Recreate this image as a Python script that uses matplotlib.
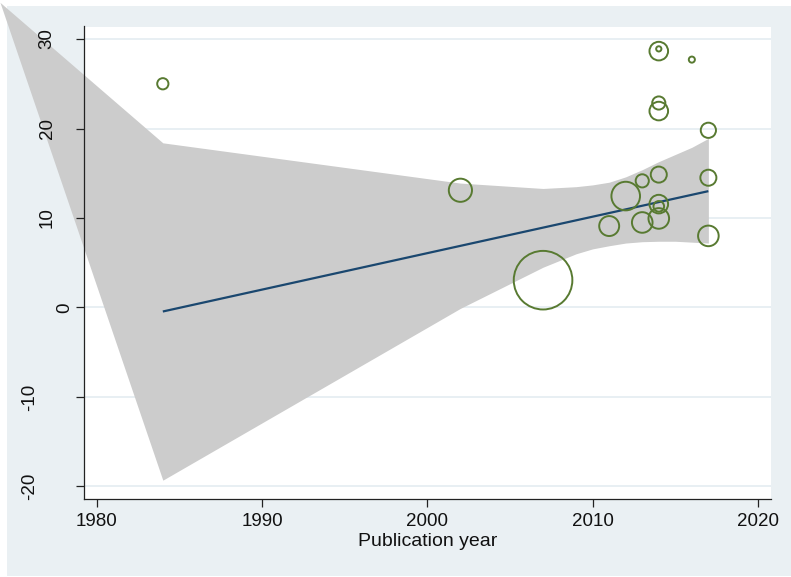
import matplotlib
matplotlib.use("Agg")
import matplotlib.pyplot as plt
import matplotlib.transforms as mtransforms
from matplotlib.patches import Rectangle
import numpy as np

# ---- data ----
study_year = [1984, 2002, 2007, 2011, 2012, 2013, 2013,
              2014, 2014, 2014, 2014, 2014, 2014, 2014, 2014,
              2016, 2017, 2017, 2017]
effect = [25.0, 13.1, 3.05, 9.1, 12.45, 14.15, 9.5,
          28.65, 28.9, 22.85, 21.95, 14.85, 11.55, 11.3, 9.95,
          27.7, 19.8, 14.5, 8.0]
weight = [40, 151, 900, 114, 225, 53, 121,
          100, 11, 53, 100, 76, 100, 36, 121,
          14, 69, 76, 121]

band_x = [1974.15, 1984, 2002, 2007, 2009, 2010, 2011, 2012, 2013, 2014, 2015, 2016, 2017]
band_upper = [34.1, 18.4, 13.9, 13.3, 13.5, 13.7, 14.0, 14.6, 15.4, 16.3, 17.1, 17.9, 18.9]
band_lower = [34.1, -19.3, -0.1, 4.5, 6.0, 6.55, 6.9, 7.2, 7.35, 7.4, 7.4, 7.3, 7.2]

fit_x = [1984, 2017]
fit_y = [-0.45, 13.0]

x_ticks = [1980, 1990, 2000, 2010, 2020]
y_ticks = [-20, -10, 0, 10, 20, 30]
x_title = "Publication year"

# ---- styling ----
W, H = 791, 577
BG = "#eaf0f3"
GREEN = "#587a31"
NAVY = "#1a476f"
BAND = "#cccccc"
plt.rcParams["font.family"] = ["Liberation Sans", "DejaVu Sans"]

fig = plt.figure(figsize=(W / 100, H / 100), dpi=100)
fig.patch.set_facecolor("white")
fig.patches.append(Rectangle((7 / W, 1 / H), 1 - 7 / W, (H - 7) / H,
                             transform=fig.transFigure, facecolor=BG,
                             edgecolor="none", zorder=-10))

left, right, top, bottom = 84, 770.7, 26.5, 498.7
ax = fig.add_axes([left / W, 1 - bottom / H, (right - left) / W, (bottom - top) / H])
ax.set_zorder(1)
ax.set_facecolor("white")
ax.set_xlim(1979.232, 2020.77)
ax.set_ylim(-21.37, 31.4)

for s in ["top", "right"]:
    ax.spines[s].set_visible(False)
for s in ["left", "bottom"]:
    ax.spines[s].set_color("#222222")
    ax.spines[s].set_linewidth(0.9)
    ax.spines[s].set_zorder(5)

# gridlines
ax.set_yticks(y_ticks)
ax.set_xticks(x_ticks)
for v in ax.get_yticks():
    ax.axhline(v, color="#e6eef2", lw=1.3, zorder=0.5)

# confidence band (drawn unclipped like the original)
ax.fill_between(band_x, band_lower, band_upper, color=BAND, lw=0,
                clip_on=False, zorder=1)

# fit line
ax.plot(fit_x, fit_y, color=NAVY, lw=1.6, zorder=3, solid_capstyle="butt")

# bubbles
r_pt = (np.sqrt(np.array(weight, dtype=float)) - 0.7) * 0.72
ax.scatter(study_year, effect, s=(2 * r_pt) ** 2, facecolors="none",
           edgecolors=GREEN, linewidths=1.4, zorder=4, clip_on=False)

# ticks
ax.tick_params(axis="both", direction="out", length=5.8, width=0.9,
               color="#222222", labelsize=13.5, labelcolor="#111111")
ax.tick_params(axis="x", pad=4.5)
ax.set_yticklabels([])
ax.set_xticklabels([str(v) for v in x_ticks])

offsets = {1: -7.5, 2: -20.5, 3: -33.0}
for v in y_ticks:
    lab = f"{v:g}"
    tr = mtransforms.offset_copy(ax.get_yaxis_transform(), fig=fig,
                                 x=offsets[len(lab)], y=0, units="points")
    ax.text(0, v, lab, transform=tr, rotation=90, ha="right", va="center",
            fontsize=13.5, color="#111111", clip_on=False, zorder=6)

ax.set_xlabel(x_title, fontsize=14, color="#111111", labelpad=2.5)

fig.savefig("out.png", dpi=100, facecolor=fig.get_facecolor())
